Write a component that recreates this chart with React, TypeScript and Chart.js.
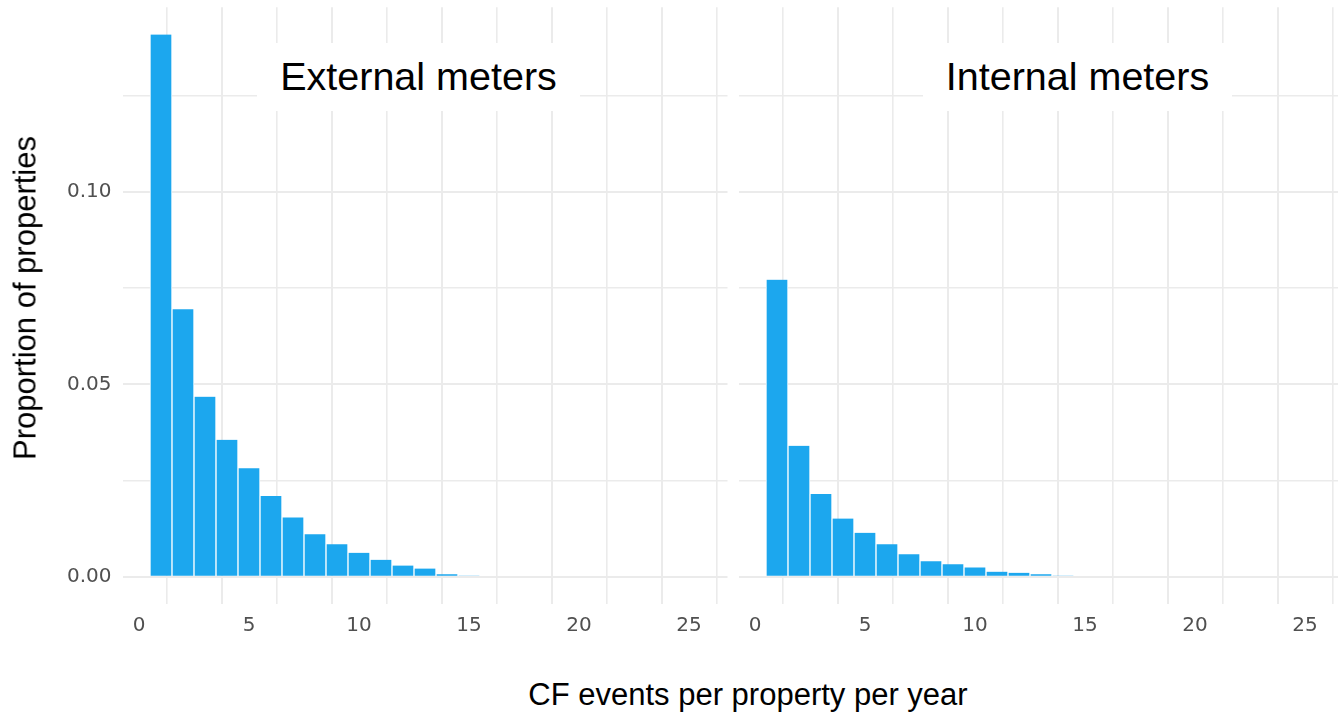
import React, { useEffect, useRef } from 'react';
import { Chart, registerables } from 'chart.js';

Chart.register(...registerables);

// ---- data ----
const binCenters = [1, 2, 3, 4, 5, 6, 7, 8, 9, 10, 11, 12, 13, 14, 15];
const externalValues = [0.1409, 0.0695, 0.0468, 0.0356, 0.0282, 0.021, 0.0154, 0.011, 0.0084, 0.0062, 0.0044, 0.0029, 0.0021, 0.0006, 0.0003];
const internalValues = [0.0772, 0.034, 0.0215, 0.0151, 0.0114, 0.0084, 0.0058, 0.004, 0.0032, 0.0024, 0.0013, 0.001, 0.0006, 0.0003];
const xTickValues = [0, 2.5, 5, 7.5, 10, 12.5, 15, 17.5, 20, 22.5, 25];
const xTickLabels = ['0', '', '5', '', '10', '', '15', '', '20', '', '25'];
const yTickValues = [0, 0.025, 0.05, 0.075, 0.1, 0.125];
const yTickLabels = ['0.00', '', '0.05', '', '0.10', ''];
const panelTitles = ['External meters', 'Internal meters'];
const xAxisTitle = 'CF events per property per year';
const yAxisTitle = 'Proportion of properties';

const X_MIN = -0.75;
const X_MAX = 26.75;
const Y_MIN = -0.00705;
const Y_MAX = 0.148;

const BAR_COLOR = '#1CA7EE';
const GRID_COLOR = '#EBEBEB';
const TICK_COLOR = '#505050';
const TICK_FONT = { family: '"DejaVu Sans", sans-serif', size: 20 };
const TEXT_FONT = '"Liberation Sans", Arial, sans-serif';

function makeConfig(values: number[], showY: boolean): any {
  return {
    type: 'bar',
    data: {
      datasets: [
        {
          data: values.map((v, i) => ({ x: binCenters[i], y: v })),
          backgroundColor: BAR_COLOR,
          borderColor: '#FFFFFF',
          borderWidth: { left: 1, right: 1, top: 0, bottom: 0 },
          barPercentage: 1,
          categoryPercentage: 1,
        },
      ],
    },
    options: {
      animation: false,
      responsive: false,
      events: [],
      layout: { padding: { top: 7.3, right: 0.5, left: 0, bottom: 0 } },
      plugins: { legend: { display: false }, tooltip: { enabled: false } },
      scales: {
        x: {
          type: 'linear',
          min: X_MIN,
          max: X_MAX,
          offset: false,
          afterBuildTicks: (s: any) => {
            s.ticks = xTickValues.map((v) => ({ value: v }));
          },
          afterFit: (s: any) => {
            s.height = 36.2;
            s.paddingLeft = 0;
            s.paddingRight = 0;
          },
          border: { display: false },
          grid: {
            color: GRID_COLOR,
            lineWidth: (ctx: any) => (ctx.index % 2 === 0 ? 2 : 1.6),
            drawTicks: false,
          },
          ticks: {
            autoSkip: false,
            maxRotation: 0,
            padding: 10,
            color: TICK_COLOR,
            font: TICK_FONT,
            callback: (_v: any, i: number) => xTickLabels[i],
          },
        },
        y: {
          type: 'linear',
          min: Y_MIN,
          max: Y_MAX,
          afterBuildTicks: (s: any) => {
            s.ticks = yTickValues.map((v) => ({ value: v }));
          },
          afterFit: (s: any) => {
            s.width = showY ? 122.5 : 8.5;
            s.paddingTop = 0;
            s.paddingBottom = 0;
          },
          border: { display: false },
          grid: {
            color: GRID_COLOR,
            lineWidth: (ctx: any) => (ctx.index % 2 === 0 ? 2 : 1.6),
            drawTicks: false,
          },
          ticks: {
            display: showY,
            autoSkip: false,
            padding: 11,
            color: TICK_COLOR,
            font: TICK_FONT,
            callback: (_v: any, i: number) => yTickLabels[i],
          },
        },
      },
    },
  };
}

function Panel({ values, showY, left, width }: { values: number[]; showY: boolean; left: number; width: number }) {
  const ref = useRef<HTMLCanvasElement | null>(null);
  useEffect(() => {
    if (!ref.current) return;
    const chart = new Chart(ref.current, makeConfig(values, showY));
    return () => chart.destroy();
  }, [values, showY]);
  return (
    <canvas
      ref={ref}
      width={width}
      height={640}
      style={{ position: 'absolute', left, top: 0, width, height: 640 }}
    />
  );
}

const stripStyle: React.CSSProperties = {
  position: 'absolute',
  top: 43,
  height: 68,
  background: '#FFFFFF',
  display: 'flex',
  alignItems: 'center',
  justifyContent: 'center',
  fontFamily: TEXT_FONT,
  fontSize: 39.5,
  lineHeight: 1,
  color: '#000000',
  whiteSpace: 'nowrap',
};

export default function App() {
  return (
    <div
      style={{
        position: 'fixed',
        left: 0,
        top: 0,
        width: 1338,
        height: 715,
        overflow: 'hidden',
        background: '#FFFFFF',
      }}
    >
      <Panel values={externalValues} showY={true} left={0} width={728} />
      <Panel values={internalValues} showY={false} left={730} width={614} />
      <div style={{ ...stripStyle, left: 257, width: 323 }}>{panelTitles[0]}</div>
      <div style={{ ...stripStyle, left: 923, width: 309 }}>{panelTitles[1]}</div>
      <div
        style={{
          position: 'absolute',
          left: 748,
          top: 678.8,
          transform: 'translateX(-50%)',
          fontFamily: TEXT_FONT,
          fontSize: 31,
          lineHeight: 1,
          whiteSpace: 'nowrap',
          color: '#000000',
        }}
      >
        {xAxisTitle}
      </div>
      <div
        style={{
          position: 'absolute',
          left: 25,
          top: 298,
          transform: 'translate(-50%, -50%) rotate(-90deg)',
          fontFamily: TEXT_FONT,
          fontSize: 31,
          lineHeight: 1,
          whiteSpace: 'nowrap',
          color: '#000000',
        }}
      >
        {yAxisTitle}
      </div>
    </div>
  );
}
